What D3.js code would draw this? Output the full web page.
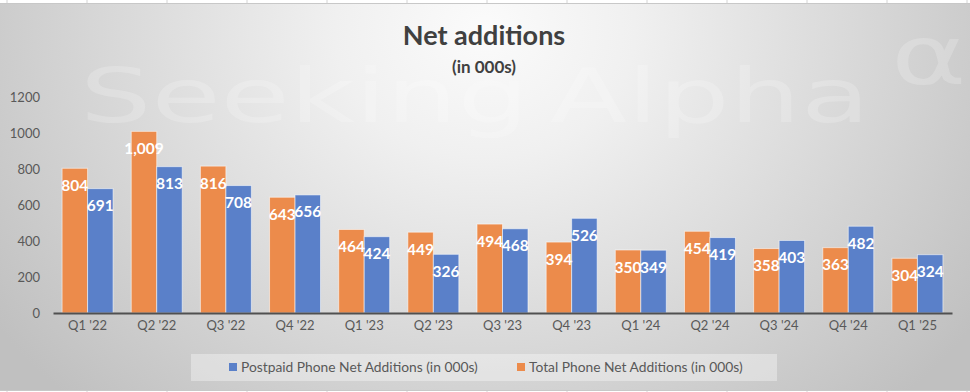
<!DOCTYPE html>
<html>
<head>
<meta charset="utf-8">
<script src="https://cdn.jsdelivr.net/npm/d3@7"></script>
<style>
  html, body { margin: 0; padding: 0; background: #ffffff; }
  svg { display: block; }
</style>
</head>
<body>
<svg id="chart" width="970" height="392"></svg>
<script>
const categories = ["Q1 '22","Q2 '22","Q3 '22","Q4 '22","Q1 '23","Q2 '23","Q3 '23","Q4 '23","Q1 '24","Q2 '24","Q3 '24","Q4 '24","Q1 '25"];
const totalPhone = [804, 1009, 816, 643, 464, 449, 494, 394, 350, 454, 358, 363, 304];
const postpaidPhone = [691, 813, 708, 656, 424, 326, 468, 526, 349, 419, 403, 482, 324];
const yTicks = [0, 200, 400, 600, 800, 1000, 1200];
const seriesNames = ["Total Phone Net Additions (in 000s)", "Postpaid Phone Net Additions (in 000s)"];
const legendOrder = ["Postpaid Phone Net Additions (in 000s)", "Total Phone Net Additions (in 000s)"];
const colors = {"Total Phone Net Additions (in 000s)": "#EC8B4B", "Postpaid Phone Net Additions (in 000s)": "#5A80C9"};
const seriesValues = {"Total Phone Net Additions (in 000s)": totalPhone, "Postpaid Phone Net Additions (in 000s)": postpaidPhone};

const W = 970, H = 392;
const svg = d3.select("#chart");
const FONT = "Lato, 'Open Sans', sans-serif";

svg.append("rect").attr("x", 0).attr("y", 0).attr("width", W).attr("height", H).attr("fill", "#ffffff");
const defs = svg.append("defs");
const grad = defs.append("radialGradient").attr("id", "bg")
  .attr("gradientUnits", "userSpaceOnUse")
  .attr("cx", 485).attr("cy", 30).attr("r", 600)
  .attr("gradientTransform", "translate(485,30) scale(1,0.85) translate(-485,-30)");
grad.append("stop").attr("offset", "0").attr("stop-color", "#fbfbfb");
grad.append("stop").attr("offset", "0.25").attr("stop-color", "#f0f0f0");
grad.append("stop").attr("offset", "1").attr("stop-color", "#c0c0c0");

const gridXs = d3.range(7, W, 80);
svg.selectAll("line.gtop").data(gridXs).join("line")
  .attr("x1", d => d).attr("x2", d => d).attr("y1", 0).attr("y2", H)
  .attr("stroke", "#d4d4d4").attr("stroke-width", 1);
svg.append("line").attr("x1", 0).attr("x2", W).attr("y1", 3.5).attr("y2", 3.5).attr("stroke", "#c8c8c8");
svg.append("line").attr("x1", 0).attr("x2", W).attr("y1", 390.5).attr("y2", 390.5).attr("stroke", "#c8c8c8");

svg.append("rect").attr("x", 0).attr("y", 4).attr("width", W).attr("height", 386).attr("fill", "url(#bg)");

// watermark
const wm = svg.append("g").attr("fill", "#ffffff").attr("fill-opacity", 0.2)
  .style("font-family", "'DejaVu Sans', Verdana, sans-serif").style("font-size", "75px");
wm.append("text").attr("transform", "translate(80,122) scale(1.5,1)").text("Seeking");
wm.append("text").attr("transform", "translate(550,122) scale(1.5,1)").text("Alpha");
wm.append("text").attr("transform", "translate(891,84) scale(1.4,1)").style("font-size", "82px").text("α");

const x0 = d3.scaleBand().domain(categories).range([53, 952]).paddingInner(0.263).paddingOuter(0.1315);
const x1 = d3.scaleBand().domain(seriesNames).range([0, x0.bandwidth()]).padding(0);
const y = d3.scaleLinear().domain([0, 1200]).range([313, 97]);

const yAxis = d3.axisLeft(y).tickValues(yTicks).tickSize(0).tickPadding(0).tickFormat(d3.format("d"));
const gy = svg.append("g").attr("transform", "translate(40,0)").call(yAxis);
gy.select(".domain").remove();
gy.selectAll("text").attr("fill", "#595959").style("font-family", FONT).style("font-size", "13px");

const groups = svg.append("g").selectAll("g").data(categories).join("g")
  .attr("transform", d => `translate(${x0(d)},0)`);
groups.selectAll("rect").data((c, i) => seriesNames.map(s => ({s, v: seriesValues[s][i]}))).join("rect")
  .attr("x", d => x1(d.s)).attr("width", x1.bandwidth())
  .attr("y", d => y(d.v)).attr("height", d => y(0) - y(d.v))
  .attr("fill", d => colors[d.s]).attr("stroke", "rgba(255,255,255,0.55)").attr("stroke-width", 1);
groups.selectAll("text").data((c, i) => seriesNames.map(s => ({s, v: seriesValues[s][i]}))).join("text")
  .attr("x", d => x1(d.s) + x1.bandwidth() / 2).attr("y", d => y(d.v) + 22.5)
  .attr("text-anchor", "middle").attr("fill", "#ffffff")
  .style("font-family", FONT).style("font-weight", "bold").style("font-size", "15.5px")
  .text(d => d3.format(",")(d.v));

const xAxis = d3.axisBottom(x0).tickSize(0).tickPadding(8);
const gx = svg.append("g").attr("transform", "translate(0,313)").call(xAxis);
gx.select(".domain").attr("stroke", "#505050").attr("stroke-width", 2.2);
gx.selectAll("text").attr("fill", "#595959").style("font-family", FONT).style("font-size", "13px");

svg.append("text").attr("x", 484).attr("y", 45).attr("text-anchor", "middle")
  .attr("fill", "#404040").style("font-family", FONT).style("font-weight", "bold").style("font-size", "27px")
  .text("Net additions");
svg.append("text").attr("x", 484).attr("y", 73).attr("text-anchor", "middle")
  .attr("fill", "#404040").style("font-family", FONT).style("font-weight", "bold").style("font-size", "17px")
  .text("(in 000s)");

svg.append("rect").attr("x", 191).attr("y", 354).attr("width", 586).attr("height", 27)
  .attr("fill", "#ffffff").attr("fill-opacity", 0.35);
const legendX = {"Postpaid Phone Net Additions (in 000s)": 229, "Total Phone Net Additions (in 000s)": 517};
const lg = svg.append("g").selectAll("g").data(legendOrder).join("g")
  .attr("transform", d => `translate(${legendX[d]},363)`);
lg.append("rect").attr("width", 8).attr("height", 8).attr("fill", d => colors[d]);
lg.append("text").attr("x", 12).attr("y", 8.5).attr("fill", "#595959")
  .style("font-family", FONT).style("font-size", "13.8px").text(d => d);
</script>
</body>
</html>
